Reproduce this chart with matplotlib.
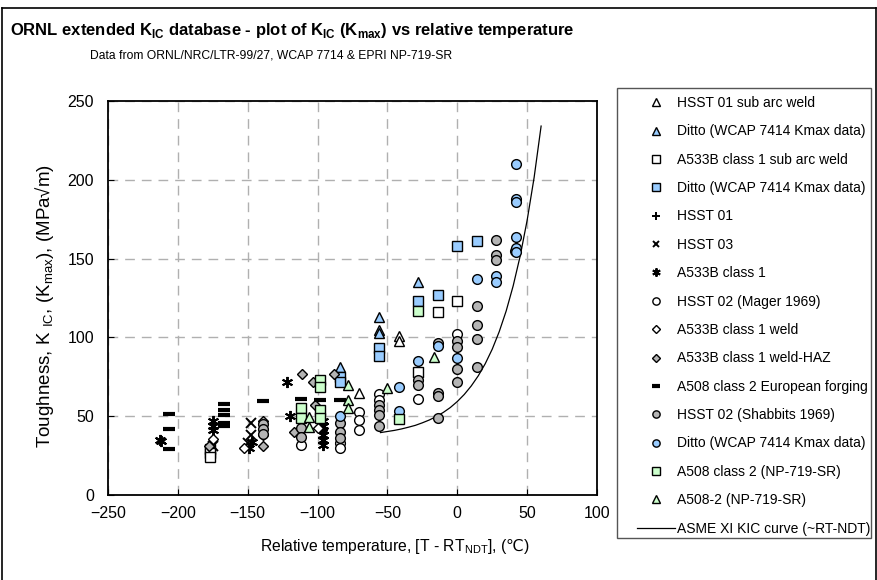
import matplotlib
matplotlib.use("Agg")
import matplotlib.pyplot as plt
from matplotlib.lines import Line2D
from matplotlib.patches import Rectangle

plt.rcParams['font.family'] = ['Liberation Sans', 'DejaVu Sans']
plt.rcParams['mathtext.fontset'] = 'custom'
plt.rcParams['mathtext.rm'] = 'Liberation Sans'
plt.rcParams['mathtext.bf'] = 'Liberation Sans:bold'
plt.rcParams['mathtext.sf'] = 'DejaVu Sans'

BLUE = '#99ccff'
GRAY = '#b4b4b4'
GREEN = '#ccffcc'

# values, x = T - RT_NDT (C), y = K_IC (MPa.sqrt m)
hsst01_saw_x = [-70, -42, -42, -28]
hsst01_saw_y = [65, 101, 98, 78]
hsst01_saw_wcap_x = [-84, -56, -56, -56, -28]
hsst01_saw_wcap_y = [81, 113, 105, 103, 135]
a533_saw_x = [-177, -177, -177, -28, -14, 0]
a533_saw_y = [29, 26.5, 24, 78, 116, 123]
a533_saw_wcap_x = [-84, -84, -56, -56, -28, -14, 0, 14]
a533_saw_wcap_y = [75, 71.5, 93, 88.5, 123, 127, 158, 161]
hsst01_x = [-96, -96]
hsst01_y = [46, 41]
hsst03_x = [-175, -148, -148, -150]
hsst03_y = [31, 45.5, 38, 33]
a533_x = [-213, -212, -175, -175, -175, -147, -149, -122, -120,
          -96, -96, -96, -96, -96, -96]
a533_y = [35, 34, 47, 44, 41, 33.5, 30, 72, 50,
          47, 44, 41, 38, 35, 32]
hsst02_mager_x = [-112, -84, -84, -70, -70, -70, -56, -56, -28, 0]
hsst02_mager_y = [31.5, 33, 30, 52.5, 47.5, 41, 64, 60, 61, 102]
a533_weld_x = [-175, -153, -100, -139]
a533_weld_y = [35.5, 30, 42.5, 38]
a533_haz_x = [-178, -139, -139, -111, -103, -88, -117, -102]
a533_haz_y = [31, 47, 31, 77, 72, 77, 40, 57]
a508_eu_x = [-206, -206, -206, -167, -167, -167, -167, -167, -139, -112, -98, -84]
a508_eu_y = [51.5, 42, 29, 57.5, 54, 50.5, 46, 44, 59.5, 61, 60, 60]
hsst02_shab_x = [-139, -139, -139, -112, -112, -84, -84, -84,
                 -56, -56, -56, -56, -28, -28,
                 -14, -14, -14, -14, 0, 0, 0, 0,
                 14, 14, 14, 14, 28, 28, 28, 41]
hsst02_shab_y = [45, 42, 39, 42.5, 37, 45.5, 40, 36,
                 57, 54, 51, 44, 73, 70,
                 96.5, 65, 63, 49, 98, 94, 80, 71.5,
                 120, 108, 99, 81, 162, 152, 149, 155]
hsst02_wcap_x = [-84, -42, -42, -28, -14, 0, 14, 28, 28, 42, 42, 42, 42, 42, 42]
hsst02_wcap_y = [50, 68.5, 53, 85, 94.5, 87, 137, 139, 135, 210, 188, 186, 164, 157, 154.5]
a508_np_x = [-112, -112, -98, -98, -98, -98, -42, -28]
a508_np_y = [55.5, 49, 73, 68.5, 54, 49, 48, 116.5]
a508_2_x = [-106, -106, -78, -78, -78, -50, -17]
a508_2_y = [49.5, 43, 69.5, 60, 55, 68, 87.5]

asme_t = [-55, -50, -45, -40, -35, -30, -25, -20, -15, -10, -5, 0,
          5, 10, 15, 20, 25, 30, 35, 40, 45, 50, 55, 60]
asme_k = [39.6, 40.3, 41.0, 41.9, 43.0, 44.2, 45.8, 47.6, 49.8, 52.4, 55.5, 59.3,
          63.8, 69.2, 75.6, 83.3, 92.5, 103.6, 116.8, 132.7, 151.6, 174.3, 201.5, 234.1]

series = [
    ("HSST 01 sub arc weld", hsst01_saw_x, hsst01_saw_y, '^', 'white', 7.5),
    ("Ditto (WCAP 7414 Kmax data)", hsst01_saw_wcap_x, hsst01_saw_wcap_y, '^', BLUE, 7.5),
    ("A533B class 1 sub arc weld", a533_saw_x, a533_saw_y, 's', 'white', 7),
    ("Ditto (WCAP 7414 Kmax data)", a533_saw_wcap_x, a533_saw_wcap_y, 's', BLUE, 7),
    ("HSST 01", hsst01_x, hsst01_y, '+', 'black', 7),
    ("HSST 03", hsst03_x, hsst03_y, 'x', 'black', 6.5),
    ("A533B class 1", a533_x, a533_y, (6, 2, 0), 'black', 8),
    ("HSST 02 (Mager 1969)", hsst02_mager_x, hsst02_mager_y, 'o', 'white', 7),
    ("A533B class 1 weld", a533_weld_x, a533_weld_y, 'D', 'white', 5.5),
    ("A533B class 1 weld-HAZ", a533_haz_x, a533_haz_y, 'D', GRAY, 5.5),
    ("A508 class 2 European forging", a508_eu_x, a508_eu_y, '_', 'black', 8),
    ("HSST 02 (Shabbits 1969)", hsst02_shab_x, hsst02_shab_y, 'o', GRAY, 7),
    ("Ditto (WCAP 7414 Kmax data)", hsst02_wcap_x, hsst02_wcap_y, 'o', BLUE, 7),
    ("A508 class 2 (NP-719-SR)", a508_np_x, a508_np_y, 's', GREEN, 7),
    ("A508-2 (NP-719-SR)", a508_2_x, a508_2_y, '^', GREEN, 7.5),
]

fig = plt.figure(figsize=(8.77, 5.80), dpi=100)
ax = fig.add_axes([108 / 877, 1 - 495 / 580, (597 - 108) / 877, (495 - 101) / 580])

for label, xs, ys, mk, fc, ms in series:
    mew = 1.0
    if mk == '_':
        mew = 3.0
    elif mk in ('+', 'x') or isinstance(mk, tuple):
        mew = 1.4
    ax.plot(xs, ys, linestyle='none', marker=mk, markersize=ms,
            markerfacecolor=fc, markeredgecolor='black', markeredgewidth=mew,
            label=label, zorder=3)

ax.plot(asme_t, asme_k, color='black', linewidth=0.9, label="ASME XI KIC curve (~RT-NDT)", zorder=2)

ax.set_xlim(-250, 100)
ax.set_ylim(0, 250)
ax.set_xticks(range(-250, 101, 50))
ax.set_yticks(range(0, 251, 50))
ax.grid(True, color='#b0b0b0', linestyle=(0, (7, 5)), linewidth=1)
ax.set_axisbelow(True)
ax.tick_params(direction='in', length=4, labelsize=11.5)
ax.tick_params(axis='x', pad=8)
ax.tick_params(axis='y', pad=10)
for s in ax.spines.values():
    s.set_linewidth(1.3)
    s.set_color('black')

ax.set_xlabel(r"Relative temperature, [T - RT$_{\mathrm{NDT}}$], ($\mathsf{℃}$)", fontsize=11.3)
ax.xaxis.set_label_coords(0.587, -0.107)
ax.set_ylabel(r"Toughness, K $_{\mathrm{IC}}$, (K$_{\mathrm{max}}$), (MPa√m)", fontsize=13.5)
ax.yaxis.set_label_coords(-0.106, 0.48)

fig.text(10 / 877, 1 - 35 / 580,
         r"ORNL extended K$_{\mathbf{IC}}$ database - plot of K$_{\mathbf{IC}}$ (K$_{\mathbf{max}}$) vs relative temperature",
         fontsize=12, fontweight='bold', va='baseline')
fig.text(90 / 877, 1 - 58 / 580, "Data from ORNL/NRC/LTR-99/27, WCAP 7714 & EPRI NP-719-SR",
         fontsize=8.7, va='baseline')

leg = ax.legend(loc='upper left', bbox_to_anchor=(637 / 877, 1 - 96 / 580),
                bbox_transform=fig.transFigure, frameon=False, fontsize=10,
                borderpad=0, borderaxespad=0, handlelength=2.73, handletextpad=0.15,
                labelspacing=1.035, markerscale=0.75, numpoints=1)

fig.patches.append(Rectangle((617 / 877, 1 - 538 / 580), (871 - 617) / 877, 450 / 580,
                             transform=fig.transFigure, fill=False,
                             edgecolor='#555555', linewidth=1))
# outer chart border
for xy in [([2, 2], [0, 572]), ([2, 876], [572, 572]), ([876, 876], [572, 0])]:
    fig.lines.append(Line2D([v / 877 for v in xy[0]], [v / 580 for v in xy[1]],
                            transform=fig.transFigure, color='black', linewidth=1.2))

fig.savefig("out.png", dpi=100)
